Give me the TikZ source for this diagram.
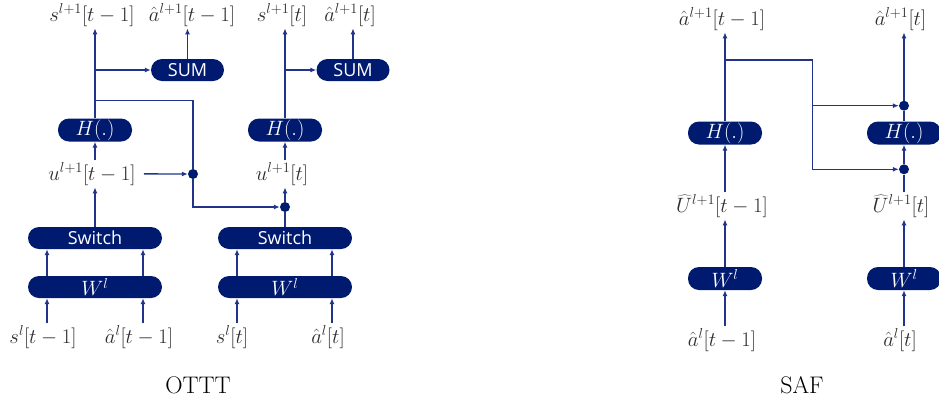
\documentclass[tikz,border=0pt]{standalone}
\usepackage{fontspec}
\newfontfamily\boxfont{Open Sans}
\usetikzlibrary{arrows.meta,calc}

\definecolor{navy}{RGB}{0,26,112}
\definecolor{wire}{RGB}{34,52,138}
\definecolor{labelgray}{RGB}{45,45,45}

\tikzset{
  pill/.style={fill=navy, text=white, rounded corners=11pt, inner sep=0pt,
               minimum height=22pt, font=\boxfont\fontsize{18}{20}\selectfont},
  pillmath/.style={pill, font=\fontsize{20}{22}\selectfont},
  lbl/.style={text=labelgray, inner sep=2pt, font=\fontsize{20}{24}\selectfont},
  caption/.style={inner sep=0pt, font=\fontsize{24}{28}\selectfont},
  junction/.style={circle, fill=navy, minimum size=10pt, inner sep=0pt},
  conn/.style={draw=wire, line width=1.3pt},
  arr/.style={conn, -{Latex[length=6pt,width=5pt]}},
}

\begin{document}
\begin{tikzpicture}[x=1pt, y=-1pt]
\useasboundingbox (0,0) rectangle (939,400);

% ---------------- OTTT ----------------
% processing blocks
\node[pill, minimum width=73pt] (sumA) at (187.5,70) {SUM};
\node[pill, minimum width=73pt] (sumB) at (353,70) {SUM};
\node[pillmath, minimum width=74pt, minimum height=23pt] (hA) at (95,130) {$H(.)$};
\node[pillmath, minimum width=74pt, minimum height=23pt] (hB) at (285,130) {$H(.)$};
\node[pill, minimum width=134pt] (swA) at (95,238) {Switch};
\node[pill, minimum width=134pt] (swB) at (285,238) {Switch};
\node[pillmath, minimum width=134pt] (wA) at (95,287) {$W^l$};
\node[pillmath, minimum width=134pt] (wB) at (285,287) {$W^l$};
\node[junction] (dotA) at (193,174) {};
\node[junction] (dotB) at (285,207) {};

% signal labels
\node[lbl, anchor=base] (sA1) at (92,21) {$s^{l+1}[t-1]$};
\node[lbl, anchor=base] (aA1) at (192,21) {$\hat{a}^{l+1}[t-1]$};
\node[lbl, anchor=base] (sB1) at (282,21) {$s^{l+1}[t]$};
\node[lbl, anchor=base] (aB1) at (350,21) {$\hat{a}^{l+1}[t]$};
\node[lbl, anchor=base] (uA) at (92,180) {$u^{l+1}[t-1]$};
\node[lbl, anchor=base] (uB) at (282,180) {$u^{l+1}[t]$};
\node[lbl, anchor=base] (sl1) at (43,343) {$s^{l}[t-1]$};
\node[lbl, anchor=base] (al1) at (139,343) {$\hat{a}^{l}[t-1]$};
\node[lbl, anchor=base] (sl2) at (232,343) {$s^{l}[t]$};
\node[lbl, anchor=base] (al2) at (328,343) {$\hat{a}^{l}[t]$};
\node[caption] (capA) at (198,385) {OTTT};

% input columns
\coordinate (c1) at (47,0);
\coordinate (c2) at (143,0);
\coordinate (c3) at (237,0);
\coordinate (c4) at (332,0);
\coordinate (jA1) at (95,70);
\coordinate (jA2) at (95,100.7);
\coordinate (jB1) at (285,70);

% step t-1
\draw[arr] (hA.north) -- (hA.north |- sA1.south);
\draw[arr] (jA1) -- (sumA.west);
\draw[arr] (sumA.north) -- (sumA.north |- aA1.south);
\draw[conn] (jA2) -| (dotA.north);
\draw[arr] (uA.north -| hA.south) -- (hA.south);
\draw[arr, shorten <=6pt] (uA.east) -- (dotA.west);
\draw[arr] (swA.north) -- (swA.north |- uA.south);
\draw[arr] (c1 |- wA.north) -- (c1 |- swA.south);
\draw[arr] (c2 |- wA.north) -- (c2 |- swA.south);
\draw[arr] (c1 |- sl1.north) -- (c1 |- wA.south);
\draw[arr] (c2 |- al1.north) -- (c2 |- wA.south);

% step t
\draw[arr] (dotA.south) |- (dotB.west);
\draw[conn] (swB.north) -- (dotB.south);
\draw[arr] (dotB.north) -- (dotB.north |- uB.south);
\draw[arr] (uB.north -| hB.south) -- (hB.south);
\draw[arr] (hB.north) -- (hB.north |- sB1.south);
\draw[arr] (jB1) -- (sumB.west);
\draw[arr] (sumB.north) -- (sumB.north |- aB1.south);
\draw[arr] (c3 |- wB.north) -- (c3 |- swB.south);
\draw[arr] (c4 |- wB.north) -- (c4 |- swB.south);
\draw[arr] (c3 |- sl2.north) -- (c3 |- wB.south);
\draw[arr] (c4 |- al2.north) -- (c4 |- wB.south);

% ---------------- SAF ----------------
\node[pillmath, minimum width=74pt, minimum height=23pt] (hC) at (725,133) {$H(.)$};
\node[pillmath, minimum width=74pt, minimum height=23pt] (hD) at (904,133) {$H(.)$};
\node[pillmath, minimum width=74pt, minimum height=23pt] (wC) at (725,278.5) {$W^l$};
\node[pillmath, minimum width=74pt, minimum height=23pt] (wD) at (904,278.5) {$W^l$};
\node[junction] (dotC) at (904,105.7) {};
\node[junction] (dotD) at (904,169.3) {};

\node[lbl, anchor=base] (aC1) at (722,25) {$\hat{a}^{l+1}[t-1]$};
\node[lbl, anchor=base] (aD1) at (900.5,25) {$\hat{a}^{l+1}[t]$};
\node[lbl, anchor=base] (UC) at (722,212) {$\widehat{U}^{l+1}[t-1]$};
\node[lbl, anchor=base] (UD) at (901,212) {$\widehat{U}^{l+1}[t]$};
\node[lbl, anchor=base] (alC) at (722,346) {$\hat{a}^{l}[t-1]$};
\node[lbl, anchor=base] (alD) at (900,346) {$\hat{a}^{l}[t]$};
\node[caption] (capB) at (802,385) {SAF};

\coordinate (jC) at (725,60);
\coordinate (kC) at (812.7,60);

\draw[arr] (hC.north) -- (hC.north |- aC1.south);
\draw[arr] (jC) -- (kC) |- (dotD.west);
\draw[arr] (kC |- dotC) -- (dotC.west);
\draw[conn] (hD.north) -- (dotC.south);
\draw[arr] (dotC.north) -- (dotC.north |- aD1.south);
\draw[arr] (dotD.north) -- (hD.south);
\draw[conn] (UD.north -| dotD.south) -- (dotD.south);
\draw[arr] (UC.north -| hC.south) -- (hC.south);
\draw[arr] (wC.north) -- (wC.north |- UC.south);
\draw[arr] (wD.north) -- (wD.north |- UD.south);
\draw[arr] (alC.north -| wC.south) -- (wC.south);
\draw[arr] (alD.north -| wD.south) -- (wD.south);
\end{tikzpicture}
\end{document}
